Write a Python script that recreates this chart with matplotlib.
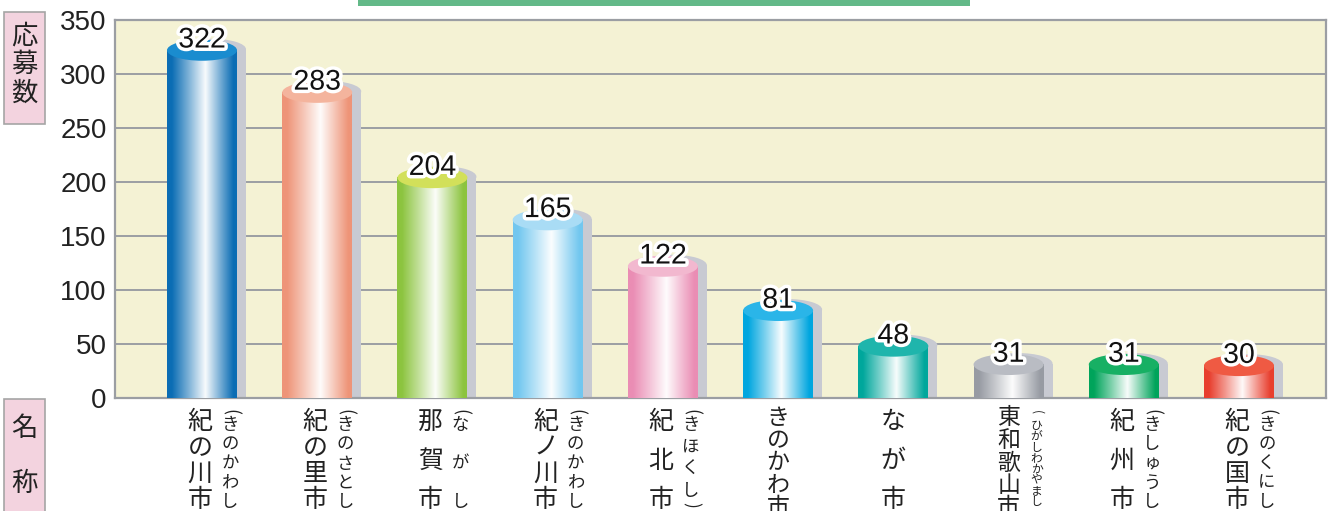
import numpy as np
import matplotlib
matplotlib.use("Agg")
import matplotlib.pyplot as plt
from matplotlib.colors import LinearSegmentedColormap, to_rgb
from matplotlib.patches import Ellipse, Rectangle
from matplotlib import transforms
import matplotlib.patheffects as pe

plt.rcParams['font.family'] = ['Liberation Sans', 'DejaVu Sans']
JP = ['Noto Sans CJK JP', 'DejaVu Sans']

# ---- data ----
names = ["紀の川市", "紀の里市", "那賀市", "紀ノ川市", "紀北市",
         "きのかわ市", "なが市", "東和歌山市", "紀州市", "紀の国市"]
readings = ["きのかわし", "きのさとし", "ながし", "きのかわし", "きほくし",
            "", "", "ひがしわかやまし", "きしゅうし", "きのくにし"]
values = [322, 283, 204, 165, 122, 81, 48, 31, 31, 30]
yticks = [0, 50, 100, 150, 200, 250, 300, 350]
ylabel_chars = "応募数"
xlabel_chars = "名称"

base_colors = ["#0b6db4", "#ee9478", "#8cc43f", "#72c7ef", "#ea8db4",
               "#00a6df", "#00a79c", "#979ba3", "#00a45b", "#e83f2e"]
top_colors = ["#1a8ccf", "#f4b49d", "#d2e05a", "#a9dcf5", "#f2b8cf",
              "#2ab5e8", "#1fb5ac", "#b9bcc3", "#17b064", "#ef5a43"]

W, H = 1331, 511
fig = plt.figure(figsize=(W / 100, H / 100), dpi=100)
fig.patch.set_facecolor("white")

ax_l, ax_r, ax_t, ax_b = 115, 1326, 20, 398
ax = fig.add_axes([ax_l / W, 1 - ax_b / H, (ax_r - ax_l) / W, (ax_b - ax_t) / H])
ax.set_facecolor("#f4f2d4")

n = len(values)
xs = np.arange(n)
xlim = (-0.755, n - 1 + 0.755)
ylim = (0, 350)
px_x = (ax_r - ax_l) / (xlim[1] - xlim[0])   # pixels per data unit x
px_y = (ax_b - ax_t) / (ylim[1] - ylim[0])   # pixels per data unit y

bw = 70 / px_x
ell_h = 21 / px_y
sh_dx = 9 / px_x
sh_dy = 1 / px_y

for yv in yticks[1:-1]:
    ax.axhline(yv, color="#9b9ea3", lw=1.4, zorder=1)

def mix(c, t):
    r = np.array(to_rgb(c))
    return tuple(r + (1 - r) * t)

grad = np.linspace(0, 1, 256).reshape(1, -1)
for i, (x, v) in enumerate(zip(xs, values)):
    c = base_colors[i]
    # shadow
    ax.add_patch(Rectangle((x - bw / 2 + sh_dx, 0), bw, v + sh_dy,
                           color="#c8cad2", zorder=2, lw=0))
    ax.add_patch(Ellipse((x + sh_dx, v + sh_dy), bw, ell_h,
                         color="#c8cad2", zorder=2, lw=0))
    cmap = LinearSegmentedColormap.from_list(
        f"c{i}", [(0, c), (0.07, c), (0.3, mix(c, 0.45)), (0.55, mix(c, 0.97)),
                  (0.8, mix(c, 0.35)), (0.95, c), (1, c)])
    ax.imshow(grad, extent=(x - bw / 2, x + bw / 2, 0, v), aspect="auto",
              cmap=cmap, zorder=3, interpolation="bilinear")
    ax.add_patch(Ellipse((x, v), bw, ell_h, color=top_colors[i], zorder=4, lw=0))
    ax.annotate(str(v), (x, v), xytext=(0, 7), textcoords="offset points",
                ha="center", va="center", fontsize=20.5, color="#111111", zorder=6,
                path_effects=[pe.withStroke(linewidth=5, foreground="white")])

ax.set_xlim(*xlim)
ax.set_ylim(*ylim)
ax.set_yticks(yticks)
ax.set_yticklabels([str(t) for t in yticks], fontsize=20, color="#222222")
ax.tick_params(axis="y", length=0, pad=6)
ax.set_xticks([])
for s in ax.spines.values():
    s.set_color("#9b9ea3")
    s.set_linewidth(1.6)

# ---- vertical category labels ----
tr = transforms.blended_transform_factory(ax.transData, fig.transFigure)
def fy(p):
    return 1 - p / H

for i, x in enumerate(xs):
    nm = names[i]
    rd = readings[i]
    k = len(nm)
    if k <= 4:
        sp, y0, fs = 78 / (k - 1), 422, 18
    else:
        sp, y0, fs = 22.5, 418, 16.5
    nx = x - 2 / px_x if rd else x
    if k == 5 and rd:
        nx = x
    for j, ch in enumerate(nm):
        ax.text(nx, fy(y0 + j * sp), ch, transform=tr, fontsize=fs, family=JP,
                ha="center", va="center", color="#222222", clip_on=False)
    if rd:
        m = len(rd)
        rx = x + 28 / px_x
        rfs = 12.5 if m <= 5 else 8.5
        rsp = 77 / (m - 1)
        if m == 4:
            rsp = 22
        ax.text(rx, fy(412), "(", transform=tr, fontsize=rfs, family=JP,
                rotation=-90, ha="center", va="center", color="#222222")
        for j, ch in enumerate(rd):
            ax.text(rx, fy(425 + j * rsp), ch, transform=tr, fontsize=rfs, family=JP,
                    ha="center", va="center", color="#222222")
        ax.text(rx, fy(425 + (m - 1) * rsp + 14), ")", transform=tr, fontsize=rfs,
                family=JP, rotation=-90, ha="center", va="center", color="#222222")

# ---- side label boxes ----
fig.patches.append(Rectangle((4 / W, 1 - 124 / H), 41 / W, 112 / H,
                             transform=fig.transFigure, facecolor="#f3d3df",
                             edgecolor="#a5a5a5", lw=1.2))
for j, ch in enumerate(ylabel_chars):
    fig.text(24 / W, fy(36 + j * 28.5), ch, fontsize=19, family=JP,
             ha="center", va="center", color="#222222")
fig.patches.append(Rectangle((4 / W, 1 - 520 / H), 41 / W, 121 / H,
                             transform=fig.transFigure, facecolor="#f3d3df",
                             edgecolor="#a5a5a5", lw=1.2))
for j, ch in enumerate(xlabel_chars):
    fig.text(24 / W, fy(428 + j * 55), ch, fontsize=19, family=JP,
             ha="center", va="center", color="#222222")

# top green band
fig.patches.append(Rectangle((358 / W, 1 - 6 / H), 612 / W, 6 / H,
                             transform=fig.transFigure, facecolor="#63b988",
                             edgecolor="none"))

fig.savefig("out.png", dpi=100)
